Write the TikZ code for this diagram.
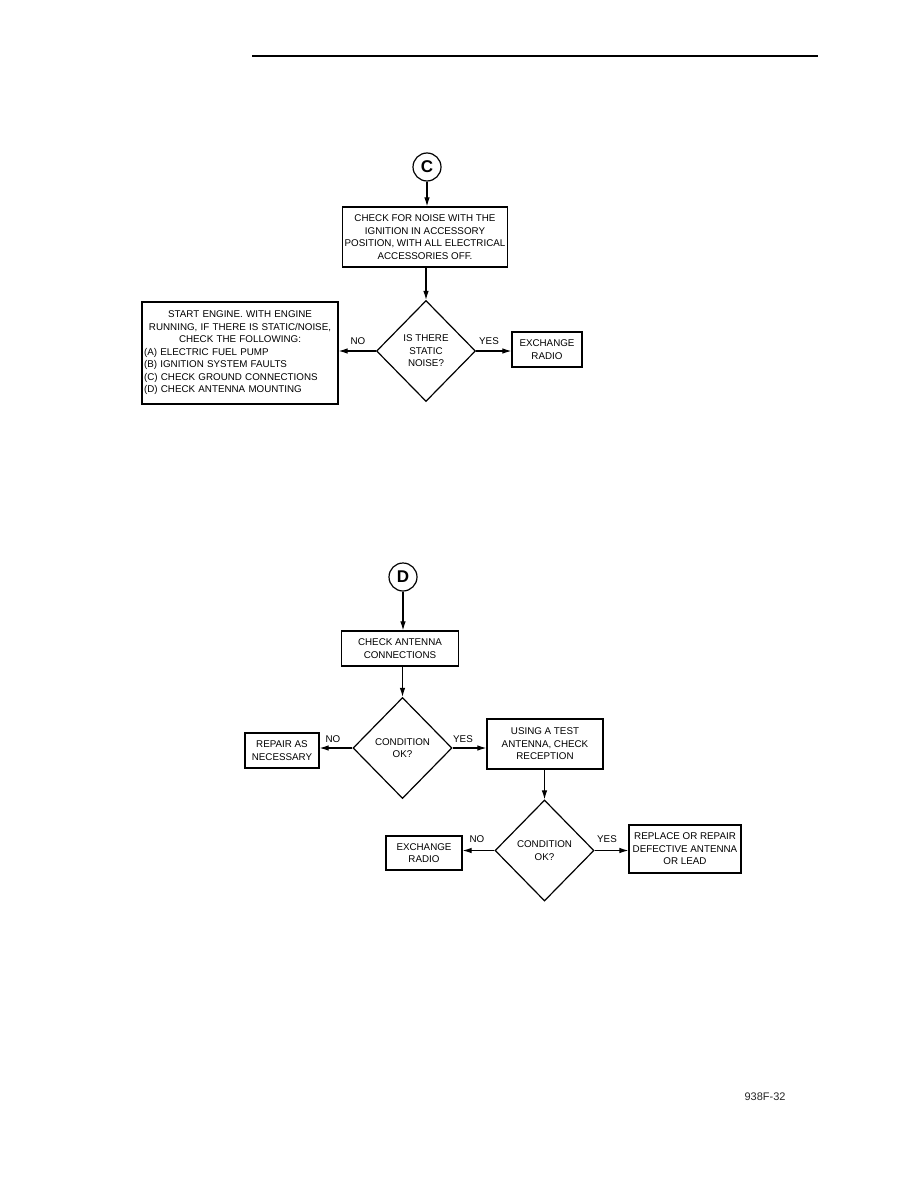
\documentclass[tikz,border=0pt]{standalone}
\usepackage{fontspec}
\setmainfont{Liberation Sans}
\usetikzlibrary{shapes.geometric,arrows.meta}

\begin{document}
\begin{tikzpicture}[x=1pt,y=-1pt,
  every node/.style={font=\fontsize{9.8}{12.5}\selectfont},
  box/.style={draw, line width=1.2pt, align=center, inner sep=0.5pt},
  dia/.style={draw, line width=1.2pt, diamond, align=center, inner sep=0pt,
    minimum width=99pt, minimum height=101pt},
  term/.style={draw, line width=1.2pt, circle, minimum size=28pt, inner sep=0pt,
    font=\fontsize{17}{17}\selectfont\bfseries},
  lbl/.style={inner sep=0pt},
  flow/.style={line width=1.1pt, -{Latex[length=9pt,width=5.5pt]}}]
\useasboundingbox (0,0) rectangle (918,1188);

\draw[line width=2.2pt] (252,56) -- (818,56);

% upper chart
\node[term] (C) at (427,167) {C};
\node[box, minimum width=165pt, minimum height=60pt] (chk) at (425,237)
  {CHECK FOR NOISE WITH THE\\IGNITION IN ACCESSORY\\POSITION, WITH ALL ELECTRICAL\\ACCESSORIES OFF.};
\node[dia] (q1) at (426,351) {IS THERE\\STATIC\\NOISE?};
\node[box, minimum width=196pt, minimum height=102pt, text width=192pt, align=left] (start) at (240,353)
  {\centering START ENGINE. WITH ENGINE\\RUNNING, IF THERE IS STATIC/NOISE,\\CHECK THE FOLLOWING:\par
   \raggedright (A) ELECTRIC FUEL PUMP\\(B) IGNITION SYSTEM FAULTS\\(C) CHECK GROUND CONNECTIONS\\(D) CHECK ANTENNA MOUNTING\par};
\node[box, minimum width=70pt, minimum height=35pt] (ex1) at (547,349.5) {EXCHANGE\\RADIO};
\node[lbl] (no1) at (358,341) {NO};
\node[lbl] (yes1) at (489,341) {YES};

\path[draw,flow] (C) -- (C |- chk.north);
\path[draw,flow] (q1 |- chk.south) -- (q1.north);
\path[draw,flow] (q1.west) -- (q1.west -| start.east);
\path[draw,flow] (q1.east) -- (q1.east -| ex1.west);

% lower chart
\node[term] (D) at (403,577) {D};
\node[box, minimum width=117pt, minimum height=35pt] (ant) at (400,648.5) {CHECK ANTENNA\\CONNECTIONS};
\node[dia] (q2) at (402.5,748) {CONDITION\\OK?};
\node[box, minimum width=74pt, minimum height=35pt] (rep) at (282,750.5) {REPAIR AS\\NECESSARY};
\node[box, minimum width=116pt, minimum height=50pt] (test) at (545,744) {USING A TEST\\ANTENNA, CHECK\\RECEPTION};
\node[dia] (q3) at (544.5,850.5) {CONDITION\\OK?};
\node[box, minimum width=76pt, minimum height=34pt] (ex2) at (424,853) {EXCHANGE\\RADIO};
\node[box, minimum width=112pt, minimum height=48pt] (fix) at (685,849) {REPLACE OR REPAIR\\DEFECTIVE ANTENNA\\OR LEAD};
\node[lbl] (no2) at (333,739) {NO};
\node[lbl] (yes2) at (463,739) {YES};
\node[lbl] (no3) at (477,839) {NO};
\node[lbl] (yes3) at (607,839) {YES};

\path[draw,flow] (D) -- (D |- ant.north);
\path[draw,flow] (q2 |- ant.south) -- (q2.north);
\path[draw,flow] (q2.west) -- (q2.west -| rep.east);
\path[draw,flow] (q2.east) -- (q2.east -| test.west);
\path[draw,flow] (q3 |- test.south) -- (q3.north);
\path[draw,flow] (q3.west) -- (q3.west -| ex2.east);
\path[draw,flow] (q3.east) -- (q3.east -| fix.west);

\node[font=\fontsize{11}{11}\selectfont, text=black!85] (fig) at (765,1097) {938F-32};
\end{tikzpicture}
\end{document}
